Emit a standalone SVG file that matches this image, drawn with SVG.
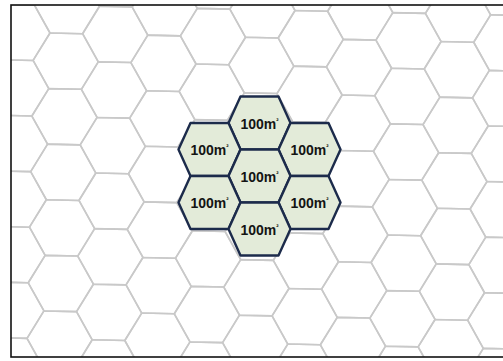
<svg xmlns="http://www.w3.org/2000/svg" xmlns:xlink="http://www.w3.org/1999/xlink" width="503" height="361" viewBox="0 0 503 361">
<style>
.grid{fill:none;stroke:#c9c9c9;stroke-width:1.6;stroke-linejoin:round}
.cell{fill:#e3ebd9;stroke:#1c2b4b;stroke-width:2.4;stroke-linejoin:round}
.lbl{font-family:"Liberation Sans",Arial,sans-serif;font-weight:bold;font-size:14px;fill:#141414;text-anchor:middle}
.sup{font-size:7px}
</style>
<defs>
<polygon id="hx" class="grid" points="-32.6,0 -16.3,-27.8 16.3,-27.8 32.6,0 16.3,27.8 -16.3,27.8"/>
<g id="col">
<use xlink:href="#hx" href="#hx" x="0" y="-111.2"/>
<use xlink:href="#hx" href="#hx" x="0" y="-55.6"/>
<use xlink:href="#hx" href="#hx" x="0" y="0"/>
<use xlink:href="#hx" href="#hx" x="0" y="55.6"/>
<use xlink:href="#hx" href="#hx" x="0" y="111.2"/>
<use xlink:href="#hx" href="#hx" x="0" y="166.8"/>
<use xlink:href="#hx" href="#hx" x="0" y="222.4"/>
<use xlink:href="#hx" href="#hx" x="0" y="278"/>
<use xlink:href="#hx" href="#hx" x="0" y="333.6"/>
<use xlink:href="#hx" href="#hx" x="48.9" y="-83.4"/>
<use xlink:href="#hx" href="#hx" x="48.9" y="-27.8"/>
<use xlink:href="#hx" href="#hx" x="48.9" y="27.8"/>
<use xlink:href="#hx" href="#hx" x="48.9" y="83.4"/>
<use xlink:href="#hx" href="#hx" x="48.9" y="139"/>
<use xlink:href="#hx" href="#hx" x="48.9" y="194.6"/>
<use xlink:href="#hx" href="#hx" x="48.9" y="250.2"/>
<use xlink:href="#hx" href="#hx" x="48.9" y="305.8"/>
<use xlink:href="#hx" href="#hx" x="48.9" y="361.4"/>
</g>
<clipPath id="frame"><rect x="11" y="5" width="494" height="352"/></clipPath>
<polygon id="gh" points="-31,0 -19,-26.5 19,-26.5 31,0 19,26.5 -19,26.5"/>
</defs>
<rect x="0" y="0" width="503" height="361" fill="#ffffff"/>
<g id="background-grid" clip-path="url(#frame)">
<g transform="rotate(1.25 50 33)">
<use xlink:href="#col" href="#col" x="-31.5" y="60.8"/>
<use xlink:href="#col" href="#col" x="66.3" y="60.8"/>
<use xlink:href="#col" href="#col" x="164.1" y="60.8"/>
<use xlink:href="#col" href="#col" x="261.9" y="60.8"/>
<use xlink:href="#col" href="#col" x="359.7" y="60.8"/>
<use xlink:href="#col" href="#col" x="457.5" y="60.8"/>
</g>
</g>
<g id="connectors"></g>
<g id="hex-top"><use xlink:href="#gh" href="#gh" class="cell" x="259.5" y="123"/><text class="lbl" x="259.5" y="128.5">100m<tspan class="sup" dy="-6">²</tspan></text></g>
<g id="hex-upper-left"><use xlink:href="#gh" href="#gh" class="cell" x="209.5" y="149.5"/><text class="lbl" x="209.5" y="155">100m<tspan class="sup" dy="-6">²</tspan></text></g>
<g id="hex-upper-right"><use xlink:href="#gh" href="#gh" class="cell" x="309.5" y="149.5"/><text class="lbl" x="309.5" y="155">100m<tspan class="sup" dy="-6">²</tspan></text></g>
<g id="hex-center"><use xlink:href="#gh" href="#gh" class="cell" x="259.5" y="176"/><text class="lbl" x="259.5" y="181.5">100m<tspan class="sup" dy="-6">²</tspan></text></g>
<g id="hex-lower-left"><use xlink:href="#gh" href="#gh" class="cell" x="209.5" y="202.5"/><text class="lbl" x="209.5" y="208">100m<tspan class="sup" dy="-6">²</tspan></text></g>
<g id="hex-lower-right"><use xlink:href="#gh" href="#gh" class="cell" x="309.5" y="202.5"/><text class="lbl" x="309.5" y="208">100m<tspan class="sup" dy="-6">²</tspan></text></g>
<g id="hex-bottom"><use xlink:href="#gh" href="#gh" class="cell" x="259.5" y="229"/><text class="lbl" x="259.5" y="234.5">100m<tspan class="sup" dy="-6">²</tspan></text></g>
<rect x="11" y="5" width="494" height="352" fill="none" stroke="#111111" stroke-width="1.6"/>
</svg>
